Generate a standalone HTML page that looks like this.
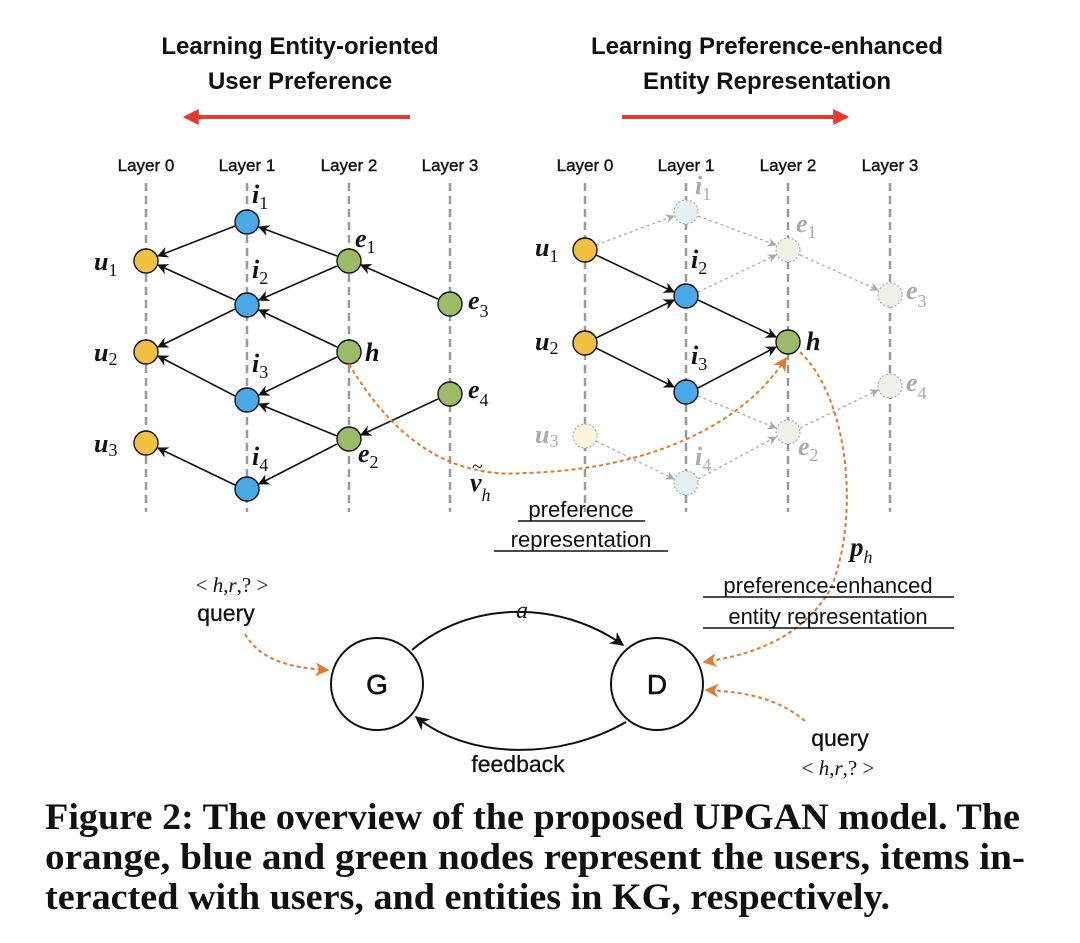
<!DOCTYPE html>
<html><head><meta charset="utf-8"><style>
html,body{margin:0;padding:0;background:#fff;}
svg{display:block;}
.t{font-family:"Liberation Sans",sans-serif;}
.m{font-family:"Liberation Serif",serif;font-style:italic;font-weight:bold;}
.c{font-family:"Liberation Serif",serif;font-weight:bold;font-size:37px;fill:#111;}
</style></head><body>
<svg width="1080" height="943" viewBox="0 0 1080 943" xmlns="http://www.w3.org/2000/svg">
<defs>
<marker id="ab" viewBox="0 0 10 10" refX="9" refY="5" markerWidth="7" markerHeight="7" orient="auto-start-reverse"><path d="M0,0 L10,5 L0,10 L3,5 z" fill="#111"/></marker>
<marker id="ag" viewBox="0 0 10 10" refX="9" refY="5" markerWidth="7" markerHeight="7" orient="auto"><path d="M0,0 L10,5 L0,10 L3,5 z" fill="#aaa"/></marker>
<marker id="ao" viewBox="0 0 10 10" refX="9" refY="5" markerWidth="7" markerHeight="7" orient="auto"><path d="M0,0 L10,5 L0,10 L3,5 z" fill="#e07b30"/></marker>
<marker id="ar" viewBox="0 0 10 10" refX="8" refY="5" markerWidth="4" markerHeight="4" orient="auto"><path d="M0,0 L10,5 L0,10 z" fill="#e8392a"/></marker>
</defs>

<g class="t" font-size="24" font-weight="bold" fill="#111" text-anchor="middle">
<text x="300" y="54">Learning Entity-oriented</text>
<text x="300" y="89">User Preference</text>
<text x="767" y="54">Learning Preference-enhanced</text>
<text x="767" y="89">Entity Representation</text>
</g>
<line x1="410" y1="117" x2="186" y2="117" stroke="#e8392a" stroke-width="4" marker-end="url(#ar)"/>
<line x1="622" y1="117" x2="846" y2="117" stroke="#e8392a" stroke-width="4" marker-end="url(#ar)"/>

<g class="t" font-size="17" fill="#111" text-anchor="middle" stroke="#111" stroke-width="0.4">
<text x="146" y="171">Layer 0</text><text x="247" y="171">Layer 1</text><text x="349" y="171">Layer 2</text><text x="450" y="171">Layer 3</text>
<text x="585" y="171">Layer 0</text><text x="686" y="171">Layer 1</text><text x="788" y="171">Layer 2</text><text x="890" y="171">Layer 3</text>
</g>
<g stroke="#999" stroke-width="2.5" stroke-dasharray="8,5">
<line x1="146" y1="183" x2="146" y2="512"/><line x1="247" y1="183" x2="247" y2="512"/><line x1="349" y1="183" x2="349" y2="512"/><line x1="450" y1="183" x2="450" y2="512"/>
<line x1="585" y1="183" x2="585" y2="512"/><line x1="686" y1="183" x2="686" y2="512"/><line x1="788" y1="183" x2="788" y2="512"/><line x1="890" y1="183" x2="890" y2="512"/>
</g>

<g stroke="#111" stroke-width="1.6" marker-end="url(#ab)">
<line x1="235" y1="226" x2="158" y2="256"/>
<line x1="235" y1="300" x2="158" y2="265"/>
<line x1="235" y1="309" x2="158" y2="347"/>
<line x1="235" y1="396" x2="158" y2="356"/>
<line x1="235" y1="485" x2="158" y2="448"/>
<line x1="337" y1="256" x2="259" y2="227"/>
<line x1="337" y1="266" x2="259" y2="300"/>
<line x1="337" y1="347" x2="259" y2="310"/>
<line x1="337" y1="357" x2="259" y2="395"/>
<line x1="337" y1="436" x2="259" y2="404"/>
<line x1="337" y1="444" x2="259" y2="484"/>
<line x1="438" y1="299" x2="361" y2="265"/>
<line x1="438" y1="399" x2="361" y2="435"/>
</g>
<g stroke="#111" stroke-width="1.4">
<circle cx="146" cy="261" r="12" fill="#f2c144"/><circle cx="146" cy="352" r="12" fill="#f2c144"/><circle cx="146" cy="443" r="12" fill="#f2c144"/>
<circle cx="247" cy="222" r="12" fill="#48a9e6"/><circle cx="247" cy="305" r="12" fill="#48a9e6"/><circle cx="247" cy="400" r="12" fill="#48a9e6"/><circle cx="247" cy="489" r="12" fill="#48a9e6"/>
<circle cx="349" cy="261" r="12" fill="#9bbb69"/><circle cx="349" cy="352" r="12" fill="#9bbb69"/><circle cx="349" cy="439" r="12" fill="#9bbb69"/>
<circle cx="450" cy="304" r="12" fill="#9bbb69"/><circle cx="450" cy="394" r="12" fill="#9bbb69"/>
</g>
<g class="m" font-size="26" fill="#111">
<text x="94" y="270">u<tspan font-size="18" font-weight="normal" font-style="normal" dy="6">1</tspan></text>
<text x="94" y="361">u<tspan font-size="18" font-weight="normal" font-style="normal" dy="4">2</tspan></text>
<text x="94" y="452">u<tspan font-size="18" font-weight="normal" font-style="normal" dy="4">3</tspan></text>
<text x="252" y="203">i<tspan font-size="18" font-weight="normal" font-style="normal" dy="6">1</tspan></text>
<text x="252" y="278">i<tspan font-size="18" font-weight="normal" font-style="normal" dy="6">2</tspan></text>
<text x="252" y="372">i<tspan font-size="18" font-weight="normal" font-style="normal" dy="6">3</tspan></text>
<text x="252" y="465">i<tspan font-size="18" font-weight="normal" font-style="normal" dy="6">4</tspan></text>
<text x="355" y="247">e<tspan font-size="18" font-weight="normal" font-style="normal" dy="6">1</tspan></text>
<text x="365" y="361">h</text>
<text x="358" y="462">e<tspan font-size="18" font-weight="normal" font-style="normal" dy="6">2</tspan></text>
<text x="468" y="309">e<tspan font-size="18" font-weight="normal" font-style="normal" dy="8">3</tspan></text>
<text x="468" y="398">e<tspan font-size="18" font-weight="normal" font-style="normal" dy="8">4</tspan></text>
<text x="470" y="491">v<tspan font-size="18" font-weight="normal" dy="10">h</tspan></text>
</g>
<text x="472" y="473" font-family="Liberation Serif,serif" font-size="20" fill="#111">~</text>

<g stroke="#aaa" stroke-width="1.3" stroke-dasharray="3,3" marker-end="url(#ag)">
<line x1="596" y1="245" x2="674" y2="216"/>
<line x1="698" y1="216" x2="776" y2="245"/>
<line x1="698" y1="292" x2="776" y2="255"/>
<line x1="800" y1="255" x2="878" y2="290"/>
<line x1="698" y1="396" x2="776" y2="428"/>
<line x1="800" y1="428" x2="878" y2="390"/>
<line x1="596" y1="441" x2="674" y2="479"/>
<line x1="698" y1="479" x2="776" y2="437"/>
</g>
<g stroke="#111" stroke-width="1.6" marker-end="url(#ab)">
<line x1="596" y1="255" x2="674" y2="292"/>
<line x1="596" y1="338" x2="674" y2="300"/>
<line x1="596" y1="348" x2="674" y2="387"/>
<line x1="698" y1="300" x2="776" y2="337"/>
<line x1="698" y1="388" x2="776" y2="347"/>
</g>
<g stroke="#aaa" stroke-width="1.2" stroke-dasharray="2,2">
<circle cx="686" cy="212" r="12" fill="#e4f0f6"/><circle cx="686" cy="483" r="12" fill="#e4f0f6"/>
<circle cx="585" cy="436" r="12" fill="#fcf6dd"/>
<circle cx="788" cy="250" r="12" fill="#eef2e6"/><circle cx="788" cy="432" r="12" fill="#eef2e6"/>
<circle cx="890" cy="295" r="12" fill="#eef2e6"/><circle cx="890" cy="386" r="12" fill="#eef2e6"/>
</g>
<g stroke="#111" stroke-width="1.4">
<circle cx="585" cy="250" r="12" fill="#f2c144"/><circle cx="585" cy="343" r="12" fill="#f2c144"/>
<circle cx="686" cy="296" r="12" fill="#48a9e6"/><circle cx="686" cy="392" r="12" fill="#48a9e6"/>
<circle cx="788" cy="342" r="12" fill="#9bbb69"/>
</g>
<g class="m" font-size="26" fill="#111">
<text x="535" y="256">u<tspan font-size="18" font-weight="normal" font-style="normal" dy="6">1</tspan></text>
<text x="535" y="350">u<tspan font-size="18" font-weight="normal" font-style="normal" dy="4">2</tspan></text>
<text x="691" y="268">i<tspan font-size="18" font-weight="normal" font-style="normal" dy="6">2</tspan></text>
<text x="691" y="364">i<tspan font-size="18" font-weight="normal" font-style="normal" dy="6">3</tspan></text>
<text x="806" y="350">h</text>
</g>
<g class="m" font-size="26" fill="#aaa">
<text x="535" y="443">u<tspan font-size="18" font-weight="normal" font-style="normal" dy="4">3</tspan></text>
<text x="695" y="194">i<tspan font-size="18" font-weight="normal" font-style="normal" dy="6">1</tspan></text>
<text x="695" y="465">i<tspan font-size="18" font-weight="normal" font-style="normal" dy="6">4</tspan></text>
<text x="796" y="232">e<tspan font-size="18" font-weight="normal" font-style="normal" dy="6">1</tspan></text>
<text x="798" y="455">e<tspan font-size="18" font-weight="normal" font-style="normal" dy="6">2</tspan></text>
<text x="906" y="299">e<tspan font-size="18" font-weight="normal" font-style="normal" dy="8">3</tspan></text>
<text x="906" y="391">e<tspan font-size="18" font-weight="normal" font-style="normal" dy="8">4</tspan></text>
</g>

<path d="M349,364 C400,450 460,478 525,473 C640,470 740,430 786,358" fill="none" stroke="#e07b30" stroke-width="2" stroke-dasharray="4,3" marker-end="url(#ao)"/>
<path d="M800,352 C850,400 860,520 830,590 C800,640 750,655 704,662" fill="none" stroke="#e07b30" stroke-width="2" stroke-dasharray="4,3" marker-end="url(#ao)"/>
<path d="M245,634 C260,660 290,668 328,670" fill="none" stroke="#e07b30" stroke-width="2" stroke-dasharray="4,3" marker-end="url(#ao)"/>
<path d="M805,721 C780,700 750,692 706,690" fill="none" stroke="#e07b30" stroke-width="2" stroke-dasharray="4,3" marker-end="url(#ao)"/>

<g class="t" font-size="22" fill="#111" text-anchor="middle">
<text x="581" y="517">preference</text>
<text x="581" y="547">representation</text>
<text x="828" y="593">preference-enhanced</text>
<text x="828" y="624">entity representation</text>
</g>
<line x1="518" y1="521" x2="645" y2="521" stroke="#111" stroke-width="1.5"/>
<line x1="494" y1="551" x2="668" y2="551" stroke="#111" stroke-width="1.5"/>
<line x1="703" y1="597" x2="954" y2="597" stroke="#111" stroke-width="1.5"/>
<line x1="703" y1="628" x2="954" y2="628" stroke="#111" stroke-width="1.5"/>
<text class="m" x="850" y="556" font-size="27" fill="#111">p<tspan font-size="18" font-weight="normal" dy="7">h</tspan></text>

<path d="M412,650 C470,600 560,600 623,645" fill="none" stroke="#111" stroke-width="2" marker-end="url(#ab)"/>
<path d="M626,722 C560,760 470,760 416,717" fill="none" stroke="#111" stroke-width="2" marker-end="url(#ab)"/>
<circle cx="377" cy="684" r="46" fill="#fff" stroke="#111" stroke-width="2"/>
<circle cx="657" cy="684" r="46" fill="#fff" stroke="#111" stroke-width="2"/>
<g class="t" font-size="28" fill="#111" text-anchor="middle" stroke="#111" stroke-width="0.6">
<text x="377" y="694">G</text><text x="657" y="694">D</text>
</g>
<text x="522" y="618" font-family="Liberation Serif,serif" font-style="italic" font-size="24" fill="#111" text-anchor="middle">a</text>
<g class="t" font-size="23" fill="#111" text-anchor="middle" stroke="#111" stroke-width="0.3">
<text x="226" y="621">query</text>
<text x="518" y="772">feedback</text>
<text x="840" y="746">query</text>
</g>
<g font-family="Liberation Serif,serif" font-size="21" fill="#111" text-anchor="middle">
<text x="232" y="592">&lt; <tspan font-style="italic">h</tspan>,<tspan font-style="italic">r</tspan>,? &gt;</text>
<text x="838" y="775">&lt; <tspan font-style="italic">h</tspan>,<tspan font-style="italic">r</tspan>,? &gt;</text>
</g>

<text class="c" x="45" y="829" textLength="975" lengthAdjust="spacingAndGlyphs">Figure 2: The overview of the proposed UPGAN model. The</text>
<text class="c" x="45" y="869" textLength="980" lengthAdjust="spacingAndGlyphs">orange, blue and green nodes represent the users, items in-</text>
<text class="c" x="45" y="909" textLength="845" lengthAdjust="spacingAndGlyphs">teracted with users, and entities in KG, respectively.</text>
</svg>
</body></html>
